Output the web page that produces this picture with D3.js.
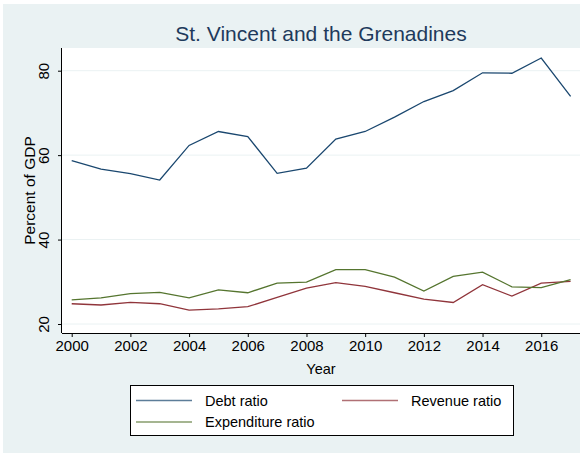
<!DOCTYPE html>
<html>
<head>
<meta charset="utf-8">
<script src="https://cdn.jsdelivr.net/npm/d3@7"></script>
<style>
  body { margin: 0; background: #fff; }
  svg { display: block; font-family: "Liberation Sans", Arial, sans-serif; }
</style>
</head>
<body>
<div id="chart"></div>
<script>
// data
var years = [2000, 2001, 2002, 2003, 2004, 2005, 2006, 2007, 2008, 2009, 2010, 2011, 2012, 2013, 2014, 2015, 2016, 2017];
var debtRatio = [58.7, 56.7, 55.6, 54.1, 62.3, 65.6, 64.4, 55.7, 56.9, 63.8, 65.6, 69.0, 72.7, 75.3, 79.5, 79.4, 83.0, 73.9];
var revenueRatio = [24.8, 24.5, 25.1, 24.8, 23.3, 23.6, 24.1, 26.3, 28.5, 29.8, 28.9, 27.4, 25.9, 25.1, 29.3, 26.6, 29.7, 30.1];
var expenditureRatio = [25.7, 26.2, 27.2, 27.5, 26.2, 28.1, 27.4, 29.7, 29.9, 32.9, 32.9, 31.1, 27.8, 31.3, 32.3, 28.8, 28.6, 30.5];
var xTicks = [2000, 2002, 2004, 2006, 2008, 2010, 2012, 2014, 2016];
var yTicks = [20, 40, 60, 80];
var seriesNames = ["Debt ratio", "Revenue ratio", "Expenditure ratio"];

var W = 580, H = 453;
var colors = { "Debt ratio": "#1a476f", "Revenue ratio": "#90353b", "Expenditure ratio": "#55752f" };

var svg = d3.select("#chart").append("svg").attr("width", W).attr("height", H);

// outer background
svg.append("rect").attr("x", 3).attr("y", 4).attr("width", W - 3).attr("height", H - 4)
    .attr("fill", "#eaf2f3");

// plot region
var plot = { left: 62, top: 48, right: 580, bottom: 333 };
svg.append("rect").attr("x", plot.left).attr("y", plot.top)
    .attr("width", plot.right - plot.left).attr("height", plot.bottom - plot.top)
    .attr("fill", "#fff");

var x = d3.scaleLinear().domain([2000, 2017]).range([71.7, 570.6]);
var y = d3.scaleLinear().domain([20, 80]).range([324, 70.7]);

// gridlines
svg.selectAll("line.grid").data(yTicks).enter().append("line")
    .attr("class", "grid")
    .attr("x1", plot.left).attr("x2", plot.right)
    .attr("y1", function (d) { return y(d) }).attr("y2", function (d) { return y(d) })
    .attr("stroke", "#eaf2f3").attr("stroke-width", 1);

// x axis
var xAxis = svg.append("g").attr("transform", "translate(0," + plot.bottom + ")")
    .call(d3.axisBottom(x).tickValues(xTicks).tickFormat(d3.format("d")).tickSize(4).tickPadding(3));
xAxis.select(".domain").attr("d", "M" + plot.left + ",0.5H" + plot.right).attr("stroke", "#000");
xAxis.selectAll("text").attr("font-size", 15).attr("fill", "#000")
    .attr("font-family", "Liberation Sans, Arial, sans-serif");

// y axis
var yAxis = svg.append("g").attr("transform", "translate(" + plot.left + ",0)")
    .call(d3.axisLeft(y).tickValues(yTicks).tickSize(4));
yAxis.select(".domain").attr("d", "M-0.5," + plot.top + "V" + plot.bottom).attr("stroke", "#000");
yAxis.selectAll("text")
    .attr("font-size", 15).attr("fill", "#000")
    .attr("font-family", "Liberation Sans, Arial, sans-serif")
    .attr("x", null).attr("dy", null)
    .attr("text-anchor", "middle")
    .attr("transform", "translate(-13,0) rotate(-90)");

// lines
var series = [
    { name: "Debt ratio", values: debtRatio },
    { name: "Revenue ratio", values: revenueRatio },
    { name: "Expenditure ratio", values: expenditureRatio }
];
var line = d3.line().x(function (d, i) { return x(years[i]) }).y(function (d) { return y(d) });
svg.selectAll("path.series").data(series).enter().append("path")
    .attr("class", "series")
    .attr("d", function (d) { return line(d.values) })
    .attr("fill", "none")
    .attr("stroke", function (d) { return colors[d.name] })
    .attr("stroke-width", 1.3);

// title and axis titles
svg.append("text").attr("x", 321).attr("y", 41).attr("text-anchor", "middle")
    .attr("font-size", 21).attr("fill", "#1e3a5c").text("St. Vincent and the Grenadines");
svg.append("text").attr("x", 321).attr("y", 374).attr("text-anchor", "middle")
    .attr("font-size", 14.5).attr("fill", "#000").text("Year");
svg.append("text").attr("transform", "translate(35,190.5) rotate(-90)").attr("text-anchor", "middle")
    .attr("font-size", 15.5).attr("fill", "#000").text("Percent of GDP");

// legend
var legend = svg.append("g");
legend.append("rect").attr("x", 130.5).attr("y", 385.5).attr("width", 383).attr("height", 50)
    .attr("fill", "#fff").attr("stroke", "#000").attr("stroke-width", 1);
var legPos = [[136, 400.5], [342, 400.5], [136, 422]];
var items = legend.selectAll("g.item").data(seriesNames).enter().append("g")
    .attr("class", "item")
    .attr("transform", function (d, i) { return "translate(" + legPos[i][0] + "," + legPos[i][1] + ")" });
items.append("line").attr("x1", 0).attr("x2", 56).attr("y1", 0).attr("y2", 0)
    .attr("stroke", function (d) { return colors[d] }).attr("stroke-width", 1.5).attr("opacity", 0.7);
items.append("text").attr("x", 69).attr("y", 5)
    .attr("font-size", 14.5).attr("fill", "#000").text(function (d) { return d });
</script>
</body>
</html>
